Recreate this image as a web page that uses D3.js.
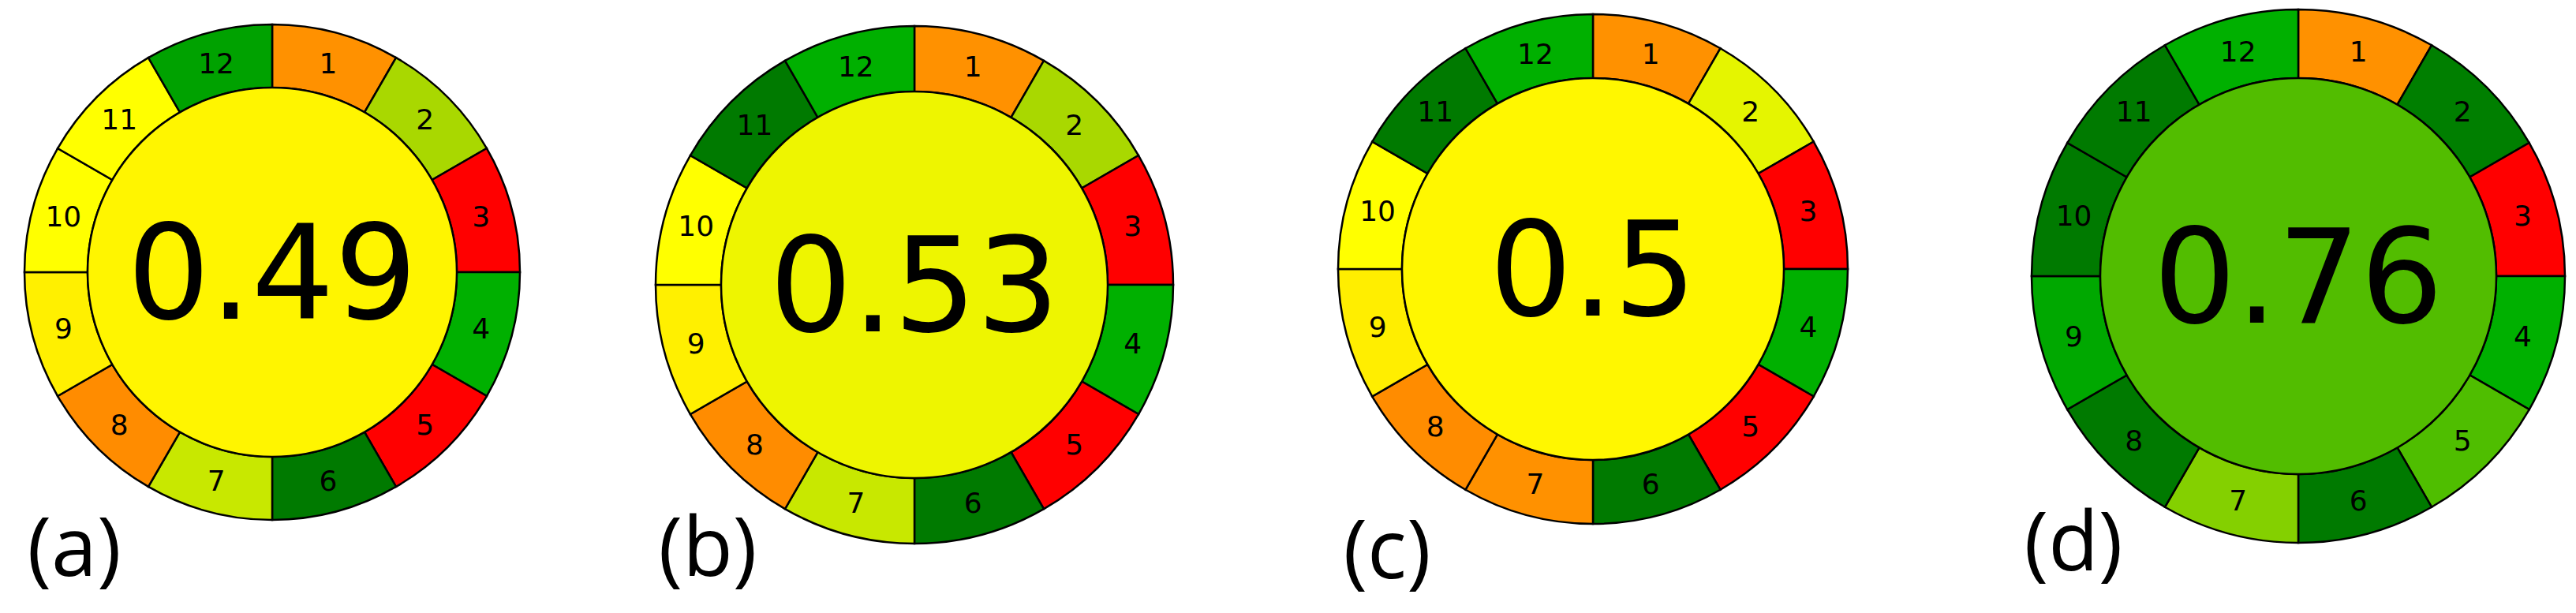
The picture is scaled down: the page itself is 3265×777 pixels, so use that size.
<!DOCTYPE html>
<html><head><meta charset="utf-8">
<script src="https://cdn.jsdelivr.net/npm/d3@7"></script>
<style>body{margin:0;background:#fff}</style>
</head><body>
<svg id="chart" width="3265" height="777"></svg>
<script>
var panels = ["(a)", "(b)", "(c)", "(d)"];
var scores = ["0.49", "0.53", "0.5", "0.76"];
var segments = [1,2,3,4,5,6,7,8,9,10,11,12];
var centerColors = ["#fff500", "#eef500", "#fff700", "#52bd00"];
var segColors = [
  ["#ff9100","#a9d800","#ff0000","#00b000","#ff0000","#007a00","#c8e800","#ff8c00","#fff000","#ffff00","#ffff00","#00a200"],
  ["#ff9100","#a9d800","#ff0000","#00b000","#ff0000","#007a00","#c8e800","#ff8c00","#fff000","#ffff00","#007a00","#00b000"],
  ["#ff9100","#e5f500","#ff0000","#00b000","#ff0000","#007a00","#ff9100","#ff8c00","#ffee00","#ffff00","#007a00","#00b000"],
  ["#ff9100","#007f00","#ff0000","#00b000","#4fbe00","#007a00","#84d000","#007a00","#00a800","#007a00","#007a00","#00b000"]
];
// layout per panel: centre, outer and inner radius, label position
var cx = [345, 1159, 2019, 2913], cy = [345, 361, 341, 350];
var rOut = [314, 328, 323, 338], rIn = [234, 245, 242, 251];
var lx = [94, 897, 1758, 2628], ly = [752, 752, 755, 745];

var svg = d3.select("#chart");
var angle = d3.scaleLinear().domain([0, 12]).range([0, 2 * Math.PI]);

panels.forEach(function(p, i) {
  var g = svg.append("g").attr("transform", "translate(" + cx[i] + "," + cy[i] + ")");
  var arc = d3.arc().innerRadius(rIn[i]).outerRadius(rOut[i])
    .startAngle(function(d) { return angle(d - 1); })
    .endAngle(function(d) { return angle(d); });
  g.selectAll("path").data(segments).enter().append("path")
    .attr("d", arc)
    .attr("fill", function(d, j) { return segColors[i][j]; })
    .attr("stroke", "#000").attr("stroke-width", 2.5);
  g.selectAll("text.seg").data(segments).enter().append("text")
    .attr("class", "seg")
    .attr("transform", function(d) { return "translate(" + arc.centroid(d) + ")"; })
    .attr("text-anchor", "middle").attr("dy", "0.35em")
    .attr("font-family", "DejaVu Sans").attr("font-size", 36)
    .text(function(d) { return d; });
  g.append("circle").attr("r", rIn[i]).attr("fill", centerColors[i])
    .attr("stroke", "#000").attr("stroke-width", 2.5);
  g.append("text").attr("text-anchor", "middle").attr("dy", "0.36em")
    .attr("font-family", "DejaVu Sans").attr("font-size", 165)
    .text(scores[i]);
  svg.append("text").attr("x", lx[i]).attr("y", ly[i] - 22)
    .attr("text-anchor", "middle")
    .attr("font-family", "Open Sans").attr("font-size", 104)
    .text(p);
});
</script>
</body></html>
